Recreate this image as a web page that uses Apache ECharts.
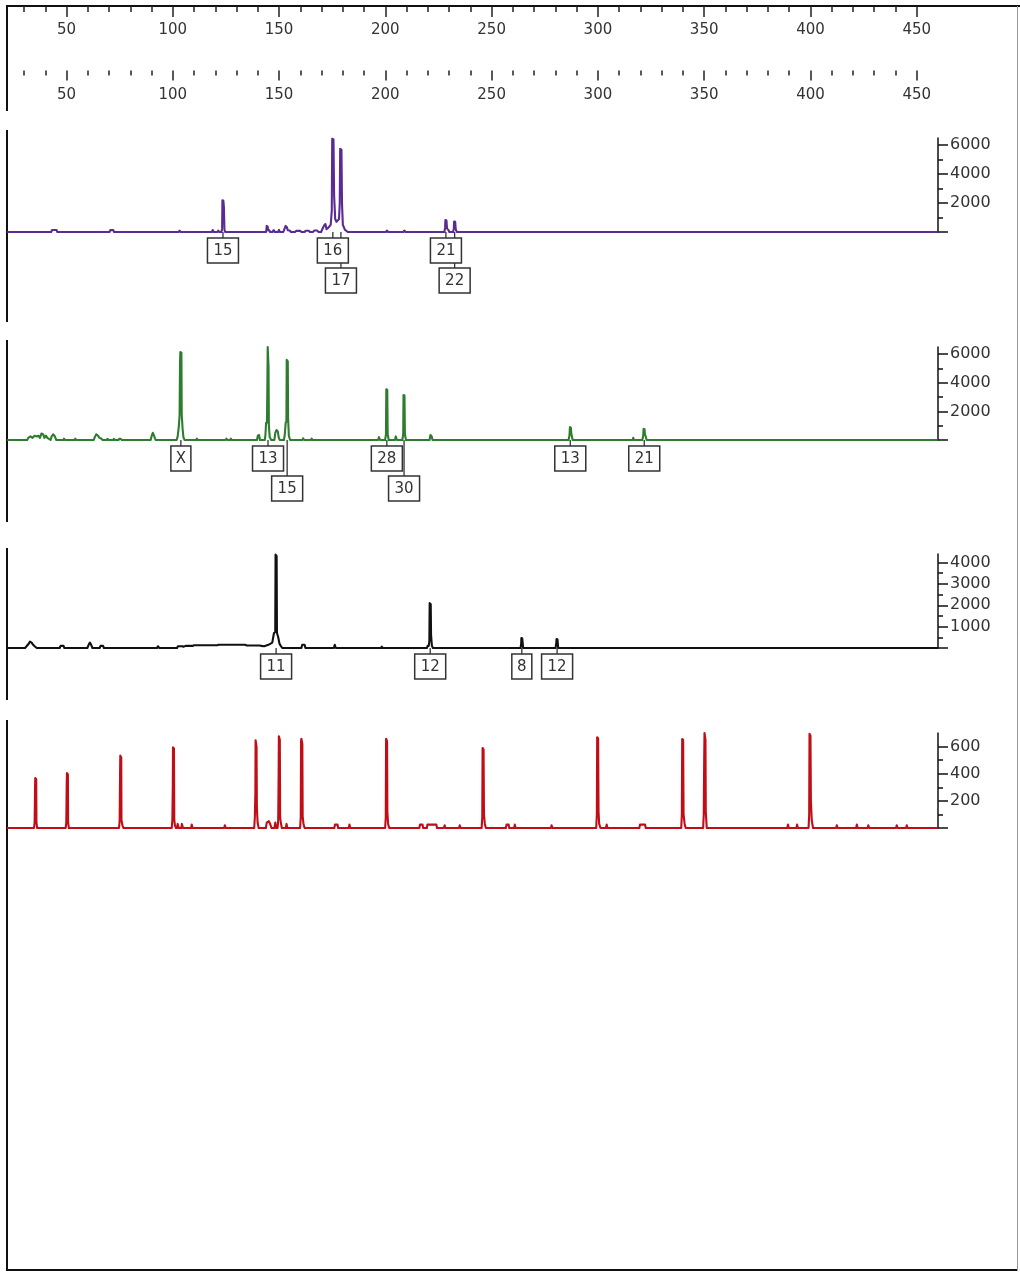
<!DOCTYPE html>
<html><head><meta charset="utf-8">
<script src="https://cdn.jsdelivr.net/npm/echarts@6/dist/echarts.min.js"></script>
<style>html,body{margin:0;padding:0;background:#fff}#c{width:1020px;height:1273px}</style>
</head><body><div id="c"></div>
<script>
// ---------- axis ranges & tick labels ----------
const X_MIN = 22, X_MAX = 460;
const RULER_MAJOR = [50,100,150,200,250,300,350,400,450];
const RULER_MINOR = [30,40,60,70,80,90,110,120,130,140,160,170,180,190,210,220,230,240,260,270,280,290,310,320,330,340,360,370,380,390,410,420,430,440];

const P1_MAX = 6500, P1_MAJOR = [0,2000,4000,6000], P1_LABELS = [2000,4000,6000], P1_MINOR = [1000,3000,5000];
const P2_MAX = 6500, P2_MAJOR = [0,2000,4000,6000], P2_LABELS = [2000,4000,6000], P2_MINOR = [1000,3000,5000];
const P3_MAX = 4400, P3_MAJOR = [0,1000,2000,3000,4000], P3_LABELS = [1000,2000,3000,4000], P3_MINOR = [500,1500,2500,3500];
const P4_MAX = 700, P4_MAJOR = [0,200,400,600], P4_LABELS = [200,400,600], P4_MINOR = [100,300,500];

// ---------- traces (size in bp, height in RFU) ----------
const P1_TRACE = [
[22,0],
[42.8,0],[43.2,140],[45.3,140],[45.7,0],
[70.2,0],[70.6,130],[72.0,130],[72.4,0],
[102.8,0],[103.2,90],[103.7,0],
[118.4,0],[118.8,140],[119.3,0],
[121.0,0],[121.4,90],[121.8,0],
[122.9,0],[123.2,250],[123.35,2200],[123.8,2150],[124.05,1700],[124.3,150],[124.7,0],
[143.9,0],[144.2,420],[144.6,380],[145.0,100],[145.4,120],[145.8,0],
[147.0,0],[147.3,120],[147.6,120],[148.0,0],
[149.5,0],[150.0,150],[150.3,0],
[152.0,0],[152.5,200],[153.1,420],[153.6,350],[154.1,120],[155.0,100],[155.6,0],
[157.5,0],[158,80],[160,80],[160.5,0],
[162,0],[162.5,90],[164,90],[164.5,0],
[166,0],[166.5,100],[168,100],[168.5,0],
[169.8,0],[170.2,150],[171.2,450],[171.8,550],[172.3,200],[173.2,300],[174.3,500],[174.8,1500],[175.0,6450],[175.6,6400],[175.9,2500],[176.4,900],[177.0,700],[178.2,900],[178.55,2000],[178.75,5750],[179.35,5700],[179.6,2000],[180.0,500],[181.0,150],[181.5,100],[182.3,0],
[200.3,0],[200.7,100],[201.3,0],
[208.5,0],[208.9,100],[209.5,0],
[227.8,0],[228.1,300],[228.25,830],[228.75,800],[229.0,250],[229.6,150],[230.1,0],
[231.9,0],[232.2,250],[232.35,720],[232.85,700],[233.1,200],[233.6,0],
[460,0]
];
const P2_TRACE = [
[22,0],
[31.5,0],[32,150],[33,250],[34,150],[35,300],[36,250],[36.8,300],[37.5,150],[38.2,450],[39,400],[39.6,150],[40.3,300],[41,150],[42.5,0],[43,250],[43.8,400],[44.5,250],[45.2,0],
[48.5,0],[48.8,90],[49.3,0],
[53.8,0],[54.1,90],[54.6,0],
[62.8,0],[63.3,200],[64,400],[64.8,300],[65.5,150],[66.3,100],[67,0],
[69,0],[69.3,80],[69.8,0],
[72,0],[72.3,80],[72.8,0],
[74.5,0],[74.8,80],[75.5,80],[76,0],
[89.6,0],[90,250],[90.6,500],[91.2,300],[91.6,100],[92,0],
[101.8,0],[102.3,250],[102.8,900],[103.2,1700],[103.4,5400],[103.55,6150],[104.05,6100],[104.2,1800],[104.6,800],[105.0,200],[105.5,0],
[111,0],[111.3,90],[111.8,0],
[124.8,0],[125.2,90],[125.7,0],
[127,0],[127.3,90],[127.8,0],
[139.6,0],[140,300],[140.6,350],[141,0],
[143.3,0],[143.6,400],[143.9,1200],[144.3,1200],[144.5,4000],[144.65,6500],[145.05,5100],[145.2,1000],[145.6,200],[146.3,0],
[147.8,0],[148.2,500],[148.8,700],[149.4,600],[149.8,200],[150.3,0],
[152.3,0],[152.7,400],[153.1,1200],[153.45,1300],[153.6,5600],[154.1,5500],[154.25,1500],[154.6,300],[155.2,0],
[161,0],[161.3,120],[161.8,0],
[165,0],[165.3,90],[165.8,0],
[196.6,0],[197,200],[197.5,0],
[199.9,0],[200.3,400],[200.45,3550],[200.9,3500],[201.1,400],[201.6,0],
[204.5,0],[204.9,250],[205.4,0],
[208.0,0],[208.4,400],[208.55,3150],[209.0,3100],[209.2,400],[209.7,0],
[220.8,0],[221.2,350],[221.8,250],[222.2,0],
[286.2,0],[286.6,300],[286.85,900],[287.3,850],[287.45,500],[287.7,300],[288.1,0],
[316.3,0],[316.6,150],[317.0,0],
[320.9,0],[321.3,300],[321.5,780],[321.95,750],[322.1,400],[322.5,250],[322.9,0],
[460,0]
];
const P3_TRACE = [
[22,0],
[30.5,0],[31.2,80],[32.2,200],[32.8,300],[33.6,250],[34.3,150],[35.0,80],[36,0],
[46.8,0],[47.2,100],[48.6,100],[49,0],
[59.8,0],[60.4,150],[61,250],[61.6,150],[62.2,0],
[65.6,0],[66,100],[67.2,100],[67.6,0],
[92.6,0],[93,80],[93.7,0],
[102,0],[102.4,80],[104.5,80],[105,60],[106,100],[109.5,100],[110,130],[118,130],[121,130],[121.5,150],[133,150],[134,150],[134.8,120],[141,120],[141.5,100],[143,80],[145,150],[146.8,250],[147.6,700],[148.2,750],[148.35,4370],[148.85,4300],[149.0,700],[149.6,500],[150.2,200],[150.8,100],[151.5,0],
[160.5,0],[160.9,150],[162,150],[162.4,0],
[175.8,0],[176.2,150],[176.7,0],
[198,0],[198.3,60],[198.8,0],
[219.6,0],[219.9,100],[220.4,100],[220.7,300],[220.85,2100],[221.35,2050],[221.5,600],[221.9,100],[222.4,0],
[263.6,0],[263.9,200],[264.0,470],[264.4,450],[264.55,300],[264.8,0],
[280.1,0],[280.4,250],[280.55,420],[281.0,400],[281.3,0],
[460,0]
];
const P4_TRACE = [
[22,0],
[34.7,0],[35.0,40],[35.2,300],[35.3,368],[35.75,360],[35.85,40],[36.2,0],
[49.6,0],[49.9,40],[50.1,330],[50.2,405],[50.65,395],[50.75,40],[51.1,0],
[74.7,0],[75.0,50],[75.2,400],[75.3,533],[75.75,520],[75.85,60],[76.3,20],[76.8,0],
[99.5,0],[99.8,60],[100.0,300],[100.1,595],[100.55,585],[100.7,60],[101.0,20],[101.5,0],
[102,0],[102.3,30],[102.8,0],[104,0],[104.3,30],[104.8,0],[108.6,0],[108.9,25],[109.3,0],
[124.2,0],[124.5,20],[124.9,0],
[138.3,0],[138.6,80],[138.85,260],[138.95,647],[139.4,600],[139.55,150],[139.9,40],[140.4,0],
[143.8,0],[144.2,40],[145.2,50],[145.8,30],[146.4,0],[147.8,0],[148.2,40],[148.7,0],
[149.3,0],[149.6,60],[149.8,400],[149.9,676],[150.35,650],[150.5,80],[150.8,40],[151.3,0],
[153.2,0],[153.5,30],[153.9,0],
[159.9,0],[160.2,80],[160.35,640],[160.5,658],[160.95,620],[161.1,80],[161.5,30],[162,0],
[176,0],[176.3,25],[177.5,25],[177.8,0],[182.8,0],[183.1,25],[183.5,0],
[199.9,0],[200.2,80],[200.35,658],[200.8,640],[200.95,120],[201.3,30],[201.8,0],
[216,0],[216.3,25],[217.5,25],[217.8,0],[219.5,0],[219.8,25],[224,25],[224.3,0],[227.6,0],[227.9,20],[228.3,0],[234.7,0],[235,20],[235.4,0],
[245.3,0],[245.6,80],[245.75,590],[246.2,580],[246.4,100],[246.8,30],[247.3,0],
[256.7,0],[257,25],[258,25],[258.3,0],[260.6,0],[260.9,25],[261.3,0],
[277.9,0],[278.2,20],[278.6,0],
[299.2,0],[299.5,100],[299.65,669],[300.1,660],[300.3,120],[300.6,30],[301.2,0],
[303.8,0],[304.1,25],[304.5,0],
[319.5,0],[319.8,25],[322.2,25],[322.5,0],
[339.2,0],[339.5,100],[339.65,655],[340.1,650],[340.3,100],[340.8,30],[341.3,0],
[349.5,0],[349.8,100],[350.0,500],[350.15,700],[350.6,650],[350.75,120],[351.2,0],
[389.1,0],[389.4,25],[389.8,0],[393.4,0],[393.7,25],[394.1,0],
[399.1,0],[399.4,100],[399.55,694],[400.0,680],[400.2,200],[400.6,60],[401.2,0],
[412.1,0],[412.4,20],[412.8,0],[421.5,0],[421.8,25],[422.2,0],[426.9,0],[427.2,20],[427.6,0],[440.3,0],[440.6,20],[441,0],[445,0],[445.3,20],[445.7,0],
[460,0]
];

// ---------- allele calls ----------
const P1_CALL_X = [123.6, 175.3, 179.1, 228.5, 232.6];
const P1_CALL_ROW = [0, 0, 1, 0, 1];
const P1_CALL_TEXT = ['15', '16', '17', '21', '22'];
const P2_CALL_X = [103.8, 144.8, 153.8, 200.7, 208.8, 287.0, 321.8];
const P2_CALL_ROW = [0, 0, 1, 0, 1, 0, 0];
const P2_CALL_TEXT = ['X', '13', '15', '28', '30', '13', '21'];
const P3_CALL_X = [148.6, 221.1, 264.2, 280.8];
const P3_CALL_ROW = [0, 0, 0, 0];
const P3_CALL_TEXT = ['11', '12', '8', '12'];

// ---------- build option ----------
const FONT = 'DejaVu Sans';
const TXT = '#333';
const panels = [
  {top:138, height:94, max:P1_MAX, major:P1_MAJOR, labels:P1_LABELS, minor:P1_MINOR, trace:P1_TRACE, color:'#5a2b92', cx:P1_CALL_X, cr:P1_CALL_ROW, ct:P1_CALL_TEXT},
  {top:347, height:93, max:P2_MAX, major:P2_MAJOR, labels:P2_LABELS, minor:P2_MINOR, trace:P2_TRACE, color:'#2e7d2e', cx:P2_CALL_X, cr:P2_CALL_ROW, ct:P2_CALL_TEXT},
  {top:554, height:94, max:P3_MAX, major:P3_MAJOR, labels:P3_LABELS, minor:P3_MINOR, trace:P3_TRACE, color:'#111111', cx:P3_CALL_X, cr:P3_CALL_ROW, ct:P3_CALL_TEXT},
  {top:733, height:95, max:P4_MAX, major:P4_MAJOR, labels:P4_LABELS, minor:P4_MINOR, trace:P4_TRACE, color:'#c00d16', cx:null}
];

const grid = [
  {left:7, right:82, top:5, height:1},
  {left:7, right:82, top:69.5, height:1}
];
const xAxis = [];
const yAxis = [];
const series = [];
const noSplit = {show:false};
function rulerAxes(gi, showLine, majorLen, minorLen, margin) {
  xAxis.push({gridIndex:gi, type:'value', min:X_MIN, max:X_MAX, position:'bottom',
    axisLine:{show:true, lineStyle:{color:'#111', width:2, opacity: showLine ? 1 : 0}},
    axisTick:{show:true, customValues:RULER_MAJOR, length:majorLen, lineStyle:{color:'#222', width:1.5}},
    axisLabel:{show:true, customValues:RULER_MAJOR, margin:margin, fontFamily:FONT, fontSize:15, color:TXT},
    splitLine:noSplit});
  xAxis.push({gridIndex:gi, type:'value', min:X_MIN, max:X_MAX, position:'bottom',
    axisLine:{show:true, lineStyle:{opacity:0}},
    axisTick:{show:true, customValues:RULER_MINOR, length:minorLen, lineStyle:{color:'#222', width:1.5}},
    axisLabel:{show:false}, splitLine:noSplit});
  yAxis.push({gridIndex:gi, type:'value', show:false, splitLine:noSplit});
}
rulerAxes(0, true, 11, 6, 16.5);
rulerAxes(1, false, 10, 5, 17);

panels.forEach((p, k) => {
  const gi = grid.length;
  grid.push({left:7, right:82, top:p.top, height:p.height});
  const xi = xAxis.length;
  xAxis.push({gridIndex:gi, type:'value', min:X_MIN, max:X_MAX, show:false, splitLine:noSplit});
  const yi = yAxis.length;
  yAxis.push({gridIndex:gi, type:'value', min:0, max:p.max, position:'right',
    axisLine:{show:true, lineStyle:{color:'#111', width:1.5}},
    axisTick:{show:true, customValues:p.major, length:10, lineStyle:{color:'#111', width:1.5}},
    axisLabel:{show:true, customValues:p.labels, margin:12, fontFamily:FONT, fontSize:16, color:TXT,
      formatter: v => String(v)},
    splitLine:noSplit});
  yAxis.push({gridIndex:gi, type:'value', min:0, max:p.max, position:'right',
    axisLine:{show:true, lineStyle:{opacity:0}},
    axisTick:{show:true, customValues:p.minor, length:5, lineStyle:{color:'#111', width:1.5}},
    axisLabel:{show:false}, splitLine:noSplit});
  // trace: one polyline through every data point, positioned by the axes
  const trace = p.trace;
  series.push({type:'custom', xAxisIndex:xi, yAxisIndex:yi, data:trace, clip:false, silent:true, z:3,
    renderItem: function (params, api) {
      if (params.dataIndex !== 0) return null;
      const pts = trace.map(d => api.coord(d));
      return {type:'polyline', shape:{points:pts}, style:{stroke:p.color, lineWidth:2.1, fill:null, lineJoin:'round'}};
    }});
  if (p.cx) {
    const texts = p.ct;
    series.push({type:'custom', xAxisIndex:xi, yAxisIndex:yi, clip:false, z:4, silent:true,
      data:p.cx.map((x, i) => [x, p.cr[i]]),
      renderItem: function (params, api) {
        const x = api.value(0), row = api.value(1);
        const pt = api.coord([x, 0]);
        const t = texts[params.dataIndex];
        const w = t.length > 1 ? 31 : 20;
        const top = pt[1] + 6 + row * 30;
        return {type:'group', children:[
          {type:'line', z2:1, shape:{x1:pt[0], y1:pt[1], x2:pt[0], y2:top}, style:{stroke:'#333', lineWidth:1.3}},
          {type:'rect', z2:5, shape:{x:pt[0]-w/2, y:top, width:w, height:25}, style:{fill:'#fff', stroke:'#333', lineWidth:1.5}},
          {type:'text', z2:6, style:{text:t, x:pt[0], y:top+13, align:'center', verticalAlign:'middle', font:'15px "DejaVu Sans"', fill:TXT}}
        ]};
      }});
  }
});

const frameColor = '#111';
const graphic = [
  {type:'line', shape:{x1:7, y1:6, x2:1020, y2:6}, style:{stroke:frameColor, lineWidth:2}},
  {type:'line', shape:{x1:7, y1:5, x2:7, y2:111}, style:{stroke:frameColor, lineWidth:2}},
  {type:'line', shape:{x1:7, y1:130, x2:7, y2:322}, style:{stroke:frameColor, lineWidth:2}},
  {type:'line', shape:{x1:7, y1:340, x2:7, y2:522}, style:{stroke:frameColor, lineWidth:2}},
  {type:'line', shape:{x1:7, y1:548, x2:7, y2:700}, style:{stroke:frameColor, lineWidth:2}},
  {type:'line', shape:{x1:7, y1:720, x2:7, y2:1271}, style:{stroke:frameColor, lineWidth:2}},
  {type:'line', shape:{x1:6, y1:1270, x2:1018, y2:1270}, style:{stroke:frameColor, lineWidth:2}},
  {type:'line', shape:{x1:1017.5, y1:6, x2:1017.5, y2:1271}, style:{stroke:'#999', lineWidth:1}}
];

const chart = echarts.init(document.getElementById('c'), null, {renderer:'canvas'});
chart.setOption({animation:false, backgroundColor:'#fff', grid, xAxis, yAxis, series, graphic});
</script>
</body></html>
